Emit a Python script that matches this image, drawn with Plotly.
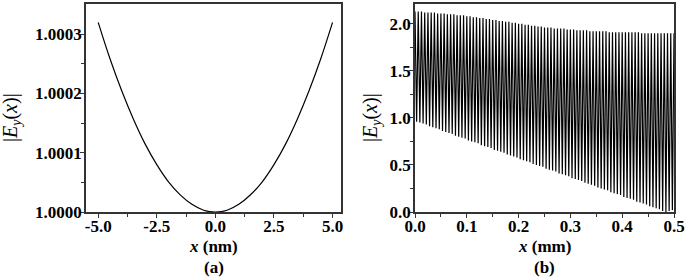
import plotly.graph_objects as go
import numpy as np

# ---- panel (a) data: |Ey(x)| vs x (nm)
xa = [-5.0, -4.5, -4.0, -3.5, -3.0, -2.5, -2.0, -1.5, -1.0, -0.5, 0.0,
      0.5, 1.0, 1.5, 2.0, 2.5, 3.0, 3.5, 4.0, 4.5, 5.0]
ya_excess_e4 = [3.20, 2.59, 2.05, 1.57, 1.15, 0.80, 0.51, 0.29, 0.13, 0.03, 0.00,
                0.03, 0.13, 0.29, 0.51, 0.80, 1.15, 1.57, 2.05, 2.59, 3.20]
ya = [1.0 + v * 1e-4 for v in ya_excess_e4]

# ---- panel (b) data: peak and trough values of |Ey(x)| vs x (mm)
x_start_b, x_end_b = 0.0, 0.5
peaks_b = [2.13, 2.13, 2.13, 2.12, 2.12, 2.12, 2.12, 2.11, 2.11,
           2.11, 2.10, 2.10, 2.10, 2.09, 2.09, 2.09, 2.08,
           2.08, 2.07, 2.07, 2.06, 2.06, 2.05, 2.05, 2.04,
           2.04, 2.03, 2.03, 2.02, 2.02, 2.01, 2.01, 2.00,
           2.00, 1.99, 1.99, 1.98, 1.98, 1.97, 1.97, 1.96,
           1.96, 1.96, 1.95, 1.95, 1.95, 1.95, 1.94, 1.94,
           1.94, 1.93, 1.93, 1.93, 1.93, 1.92, 1.92, 1.92,
           1.92, 1.92, 1.92, 1.91, 1.91, 1.91, 1.91, 1.91,
           1.91, 1.91, 1.91, 1.91, 1.91, 1.90, 1.90, 1.90,
           1.90, 1.90, 1.90, 1.90, 1.90, 1.90, 1.90, 1.90]
troughs_b = [0.96, 0.95, 0.94, 0.93, 0.91, 0.90, 0.89, 0.88, 0.86, 0.85,
             0.84, 0.83, 0.81, 0.80, 0.79, 0.78, 0.76, 0.75, 0.74, 0.73,
             0.71, 0.70, 0.69, 0.68, 0.66, 0.65, 0.64, 0.63, 0.61, 0.60,
             0.59, 0.58, 0.56, 0.55, 0.54, 0.53, 0.51, 0.50, 0.49, 0.48,
             0.46, 0.45, 0.44, 0.43, 0.41, 0.40, 0.39, 0.38, 0.36, 0.35,
             0.34, 0.33, 0.31, 0.30, 0.29, 0.28, 0.26, 0.25, 0.24, 0.23,
             0.21, 0.20, 0.19, 0.18, 0.16, 0.15, 0.14, 0.13, 0.11, 0.10,
             0.09, 0.08, 0.06, 0.05, 0.04, 0.03, 0.01, 0.00, 0.01, 0.02]

# assemble alternating extremes (evenly spaced sample positions)
yb = []
for i in range(len(troughs_b)):
    yb.append(peaks_b[i])
    yb.append(troughs_b[i])
yb.append(peaks_b[-1])
xb = list(np.linspace(x_start_b, x_end_b, len(yb)))

W, H = 685, 279
FONT = "Liberation Serif"

def px(x):
    return x / W

def py(y):
    return (H - y) / H

fig = go.Figure()
fig.add_trace(go.Scatter(x=xa, y=ya, mode="lines", line=dict(color="black", width=1.2, shape="spline"),
                         xaxis="x", yaxis="y", showlegend=False))
fig.add_trace(go.Scatter(x=xb, y=yb, mode="lines", line=dict(color="black", width=1.2),
                         xaxis="x2", yaxis="y2", showlegend=False))

common = dict(showline=True, linecolor="#333", linewidth=1.5, mirror=True, ticks="outside",
              ticklen=4, tickwidth=1.2, tickcolor="#333", showgrid=False, zeroline=False,
              automargin=False,
              tickfont=dict(family=FONT, size=17, color="black", weight="bold"))

ytop, ybot = 4, 212
fig.update_layout(
    width=W, height=H, margin=dict(l=0, r=0, t=0, b=0),
    paper_bgcolor="white", plot_bgcolor="white",
    xaxis=dict(domain=[px(86), px(341)], anchor="y", range=[-5.52, 5.36], ticklabelstandoff=-6,
               tickvals=[-5, -2.5, 0, 2.5, 5], ticktext=["-5.0", "-2.5", "0.0", "2.5", "5.0"],
               minor=dict(ticks="outside", ticklen=3, tickvals=[-3.75, -1.25, 1.25, 3.75], tickcolor="#333"),
               **common),
    yaxis=dict(domain=[py(ybot), py(ytop)], anchor="x", range=[1.0, 1.000351], ticklabelstandoff=-5,
               tickvals=[1.0, 1.0001, 1.0002, 1.0003], ticktext=["1.0000", "1.0001", "1.0002", "1.0003"],
               minor=dict(ticks="outside", ticklen=3, tickvals=[1.00005, 1.00015, 1.00025], tickcolor="#333"),
               **common),
    xaxis2=dict(domain=[px(415), px(674)], anchor="y2", range=[0, 0.5], ticklabelstandoff=-6,
                tickvals=[0, 0.1, 0.2, 0.3, 0.4, 0.5], ticktext=["0.0", "0.1", "0.2", "0.3", "0.4", "0.5"],
                minor=dict(ticks="outside", ticklen=3, tickvals=[0.05, 0.15, 0.25, 0.35, 0.45], tickcolor="#333"),
                **common),
    yaxis2=dict(domain=[py(ybot), py(ytop)], anchor="x2", range=[0, 2.21], ticklabelstandoff=-5,
                tickvals=[0, 0.5, 1.0, 1.5, 2.0], ticktext=["0.0", "0.5", "1.0", "1.5", "2.0"],
                minor=dict(ticks="outside", ticklen=3, tickvals=[0.25, 0.75, 1.25, 1.75], tickcolor="#333"),
                **common),
)

ann_font = dict(family=FONT, size=17, color="black")
yt_font = dict(family=FONT, size=20, color="black")
anns = [
    dict(x=px(213.5), y=py(246), text="<b><i>x</i> (nm)</b>", font=ann_font),
    dict(x=px(213.5), y=py(267), text="<b>(a)</b>", font=ann_font),
    dict(x=px(544.5), y=py(246), text="<b><i>x</i> (mm)</b>", font=ann_font),
    dict(x=px(544.5), y=py(267), text="<b>(b)</b>", font=ann_font),
    dict(x=px(11), y=py(118), text="|<i>E</i><sub><i>y</i></sub>(<i>x</i>)|", textangle=-90, font=yt_font),
    dict(x=px(371), y=py(118), text="|<i>E</i><sub><i>y</i></sub>(<i>x</i>)|", textangle=-90, font=yt_font),
]
for a in anns:
    fig.add_annotation(xref="paper", yref="paper", showarrow=False,
                       xanchor="center", yanchor="middle", **a)

fig.write_html("out.html", config={"displayModeBar": False},
               post_script="document.body.style.margin='0';")
